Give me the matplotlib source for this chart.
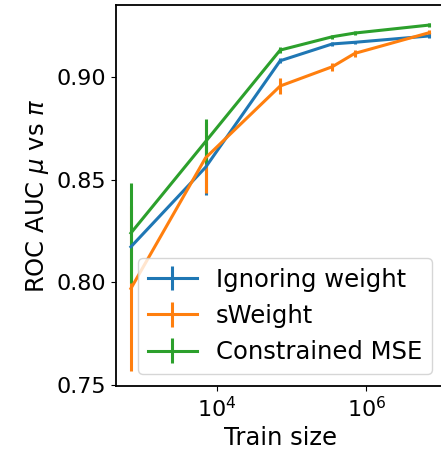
import numpy as np
import matplotlib
matplotlib.use('Agg')
import matplotlib.pyplot as plt

# train sizes (fractions of ~7e6 events)
train_size = [700, 7000, 70000, 350000, 700000, 7000000]

# ROC AUC values and errors per method
auc_ignore = [0.8173, 0.8560, 0.9079, 0.9161, 0.9169, 0.9200]
err_ignore = [0.0000, 0.0135, 0.0012, 0.0010, 0.0008, 0.0008]

auc_sweight = [0.7970, 0.8606, 0.8956, 0.9050, 0.9115, 0.9216]
err_sweight = [0.0400, 0.0170, 0.0040, 0.0020, 0.0018, 0.0012]

auc_mse = [0.8240, 0.8685, 0.9131, 0.9196, 0.9214, 0.9253]
err_mse = [0.0245, 0.0110, 0.0015, 0.0010, 0.0008, 0.0010]

labels = ['Ignoring weight', 'sWeight', 'Constrained MSE']

plt.rcParams['font.size'] = 16

fig = plt.figure(figsize=(4.41, 4.63), dpi=100)
ax = fig.add_axes([0.263, 0.1663, 0.7445, 0.8226])

for y, e, lab in zip([auc_ignore, auc_sweight, auc_mse],
                     [err_ignore, err_sweight, err_mse], labels):
    ax.errorbar(train_size, y, yerr=e, label=lab, lw=2.2, elinewidth=2.2)

ax.set_xscale('log')
ax.set_ylim(0.7495, 0.935)
ax.set_yticks([0.75, 0.80, 0.85, 0.90])
ax.set_xlabel('Train size', fontsize=17.5)
ax.set_ylabel(r'ROC AUC $\mu$ vs $\pi$', fontsize=17.5)
ax.legend(loc='lower right', fontsize=17.5, handlelength=2.0)
for s in ax.spines.values():
    s.set_linewidth(1.3)

fig.savefig('out.png', dpi=100)
